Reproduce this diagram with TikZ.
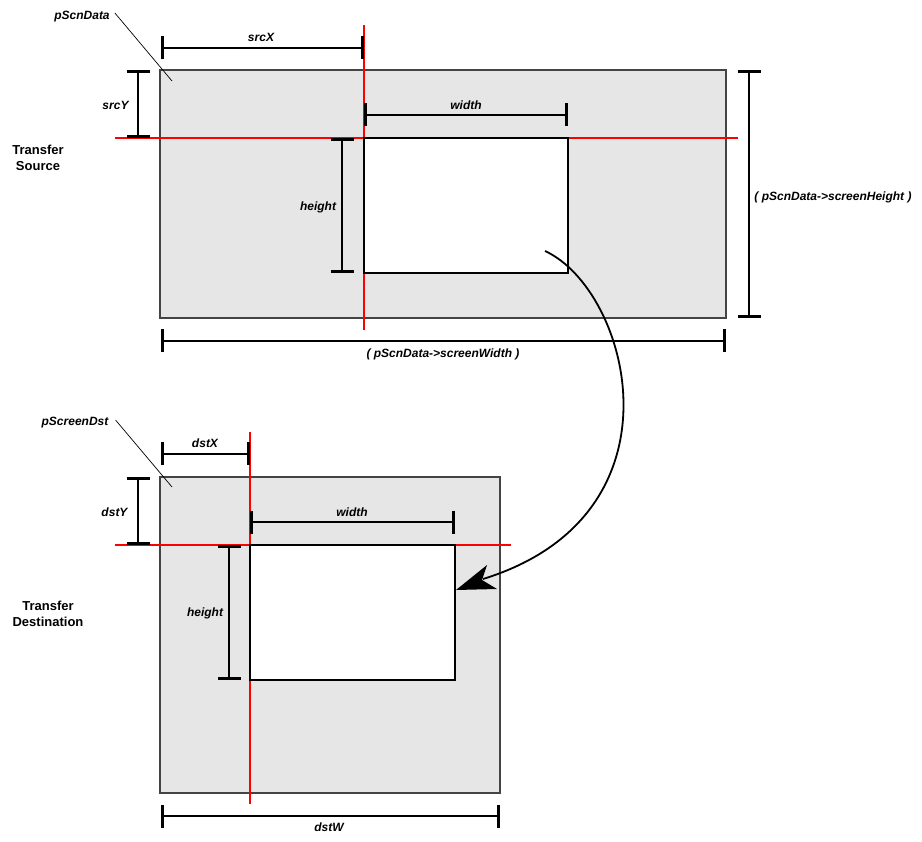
\documentclass[tikz,border=0pt]{standalone}
\usepackage{fontspec}
\setmainfont{Liberation Sans}
\usetikzlibrary{arrows.meta}
\definecolor{paneFill}{HTML}{E6E6E6}
\definecolor{paneLine}{HTML}{444444}
\definecolor{guideRed}{HTML}{FF0000}
\begin{document}
\begin{tikzpicture}[x=1pt,y=-1pt,
  frame/.style={draw=paneLine,line width=1.1pt,fill=paneFill},
  hole/.style={draw=black,line width=2.8pt,fill=white},
  guide/.style={draw=guideRed,line width=1.3pt},
  dimline/.style={draw=black,line width=2.8pt,{Bar[width=23pt]}-{Bar[width=23pt]}},
  leader/.style={draw=black,line width=0.7pt},
  lab/.style={font=\fontsize{12}{14}\selectfont\bfseries\itshape,inner sep=0pt,text height=8.6pt,text depth=0pt},
  side/.style={font=\fontsize{13}{16}\selectfont\bfseries,inner sep=0pt,align=center},
  flow/.style={draw=black,line width=1.8pt}]
\useasboundingbox (0,0) rectangle (922,842);
\fill[white] (0,0) rectangle (922,842);

% source screen
\coordinate (s1) at (160,70); \coordinate (s2) at (726,318);
\coordinate (i1) at (364,138); \coordinate (i2) at (568,273);
\draw[frame] (s1) rectangle (s2);
\fill[white] (i1) rectangle (i2);
\coordinate (rv1) at (364,25); \coordinate (rv2) at (364,330);
\coordinate (rh1) at (115,138); \coordinate (rh2) at (738,138);
\draw[guide] (rv1) -- (rv2);
\draw[guide] (rh1) -- (rh2);
\draw[hole] (i1) rectangle (i2);

% destination screen
\coordinate (d1) at (160,477); \coordinate (d2) at (500,793);
\coordinate (j1) at (250,545); \coordinate (j2) at (455,680);
\draw[frame] (d1) rectangle (d2);
\fill[white] (j1) rectangle (j2);
\coordinate (qv1) at (250,432); \coordinate (qv2) at (250,804);
\coordinate (qh1) at (115,545); \coordinate (qh2) at (511,545);
\draw[guide] (qv1) -- (qv2);
\draw[guide] (qh1) -- (qh2);
\draw[hole] (j1) rectangle (j2);

% dimension end points
\coordinate (sxA) at (161,48);  \coordinate (sxB) at (364,48);
\coordinate (syA) at (138,70);  \coordinate (syB) at (138,138);
\coordinate (swA) at (364,115); \coordinate (swB) at (568,115);
\coordinate (shA) at (342,138); \coordinate (shB) at (342,273);
\coordinate (SHA) at (749,70);  \coordinate (SHB) at (749,318);
\coordinate (SWA) at (161,341); \coordinate (SWB) at (726,341);
\coordinate (dxA) at (161,454); \coordinate (dxB) at (250,454);
\coordinate (dyA) at (138,477); \coordinate (dyB) at (138,545);
\coordinate (dwA) at (250,522); \coordinate (dwB) at (455,522);
\coordinate (dhA) at (229,545); \coordinate (dhB) at (229,680);
\coordinate (DWA) at (161,816); \coordinate (DWB) at (500,816);

\draw[dimline] (sxA) -- (sxB);
\draw[dimline] (syA) -- (syB);
\draw[dimline] (swA) -- (swB);
\draw[dimline] (shA) -- (shB);
\draw[dimline] (SHA) -- (SHB);
\draw[dimline] (SWA) -- (SWB);
\draw[dimline] (dxA) -- (dxB);
\draw[dimline] (dyA) -- (dyB);
\draw[dimline] (dwA) -- (dwB);
\draw[dimline] (dhA) -- (dhB);
\draw[dimline] (DWA) -- (DWB);

% labels
\node[lab] (lSrcData) at (82,15) {pScnData};
\node[lab] (lDstData) at (75,421) {pScreenDst};
\node[lab] (lSrcX) at (261,37) {srcX};
\node[lab] (lSrcY) at (115.5,105) {srcY};
\node[lab] (lSrcW) at (466,105) {width};
\node[lab] (lSrcH) at (318,206) {height};
\node[lab] (lScrH) at (833,196) {( pScnData->screenHeight )};
\node[lab] (lScrW) at (443,353) {( pScnData->screenWidth )};
\node[lab] (lDstX) at (205,443) {dstX};
\node[lab] (lDstY) at (114.5,512) {dstY};
\node[lab] (lDstW) at (352,512) {width};
\node[lab] (lDstH) at (205,612) {height};
\node[lab] (lDstWW) at (329,827) {dstW};
\node[side] (tSrc) at (38,158) {Transfer\\Source};
\node[side] (tDst) at (48,614) {Transfer\\Destination};

% leaders
\coordinate (ldA) at (172,81);
\coordinate (ldB) at (172,487);
\draw[leader] ([xshift=5pt,yshift=2pt]lSrcData.east) -- (ldA);
\draw[leader] ([xshift=7pt,yshift=1pt]lDstData.east) -- (ldB);

% transfer arrow
\coordinate (cs) at (545,251);
\coordinate (ce) at (483,579);
\draw[flow] (cs) .. controls (630,290) and (690,515) .. (ce);
\fill[black] (456,590) -- (487,565) -- (482,580) -- (497,589) -- cycle;
\end{tikzpicture}
\end{document}
